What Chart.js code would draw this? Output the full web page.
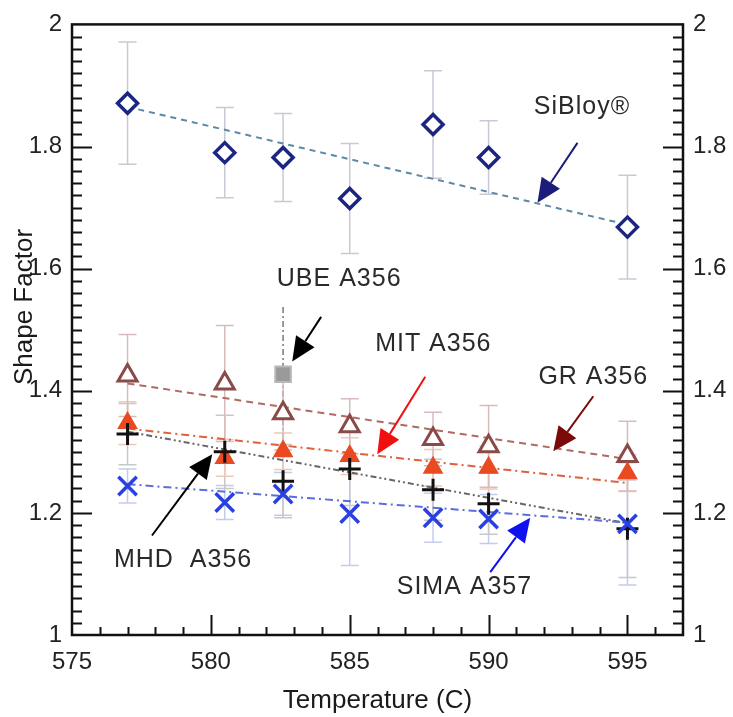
<!DOCTYPE html>
<html>
<head>
<meta charset="utf-8">
<script src="https://cdn.jsdelivr.net/npm/chart.js@4.4.1/dist/chart.umd.min.js"></script>
<style>
body { margin: 0; background: #fff; }
</style>
</head>
<body>
<canvas id="c_shape" width="733" height="717"></canvas>
<script>
const c_shape = document.getElementById('c_shape');

// temperatures (C)
const temps = [577, 580.5, 582.6, 585, 588, 590, 595];
const tempFit = [577, 595];

// shape factor per alloy
const sibloy = [1.871, 1.790, 1.782, 1.715, 1.836, 1.782, 1.668];
const sibloyErr = [0.10, 0.074, 0.072, 0.09, 0.088, 0.06, 0.085];
const gr = [1.425, 1.412, 1.363, 1.342, 1.321, 1.309, 1.293];
const grErr = [0.067, 0.095, 0.06, 0.045, 0.044, 0.067, 0.057];
const mit = [1.347, 1.290, 1.301, 1.293, 1.274, 1.274, 1.265];
const mitErr = [0.035, 0.03, 0.03, 0.03, 0.03, 0.035, 0.03];
const mhd = [1.329, 1.300, 1.252, 1.272, 1.238, 1.215, 1.174];
const mhdErr = [0.05, 0.06, 0.06, 0.06, 0.05, 0.05, 0.08];
const sima = [1.244, 1.217, 1.231, 1.199, 1.192, 1.190, 1.182];
const simaErr = [0.028, 0.028, 0.035, 0.085, 0.04, 0.04, 0.1];
const ubeTemp = [582.6];
const ube = [1.427];
const ubeErr = [0.11];

// trend lines (end points)
const sibloyFit = [1.865, 1.672];
const grFit = [1.412, 1.288];
const mitFit = [1.338, 1.249];
const mhdFit = [1.333, 1.183];
const simaFit = [1.247, 1.184];

// tick labels
const xTicks = [575, 580, 585, 590, 595];
const yTicks = [1, 1.2, 1.4, 1.6, 1.8, 2];

const FONT = '"Liberation Sans", Arial, sans-serif';

const notes = [
    {text: 'SiBloy®', x: 593.36, y: 1.865},
    {text: 'UBE A356', x: 584.62, y: 1.583},
    {text: 'MIT A356', x: 588.01, y: 1.476},
    {text: 'GR A356', x: 593.77, y: 1.423},
    {text: 'MHD  A356', x: 579.0, y: 1.122},
    {text: 'SIMA A357', x: 589.13, y: 1.078}
];
const arrows = [
    {from: [593.20, 1.806], to: [591.76, 1.708], color: '#1c1c7a'},
    {from: [583.97, 1.521], to: [582.93, 1.448], color: '#000000'},
    {from: [587.72, 1.423], to: [585.99, 1.296], color: '#f01010'},
    {from: [593.77, 1.391], to: [592.33, 1.301], color: '#7a0a0a'},
    {from: [577.88, 1.163], to: [580.05, 1.296], color: '#000000'},
    {from: [590.06, 1.103], to: [591.50, 1.192], color: '#1010f0'}
];

function pts(xs, ys) {
    return xs.map((x, i) => ({x: x, y: ys[i]}));
}

function markers(label, ys, style, errs, errColor) {
    return Object.assign({
        label: label,
        data: pts(temps, ys),
        showLine: false,
        errors: errs,
        errColor: errColor
    }, style);
}

function fitLine(ys, color, dash) {
    return {
        data: pts(tempFit, ys),
        showLine: true,
        borderColor: color,
        borderWidth: 2,
        borderDash: dash,
        pointRadius: 0
    };
}

const extras = {
    id: 'extras',
    beforeDatasetsDraw(chart) {
        const ctx = chart.ctx, xs = chart.scales.x, ys = chart.scales.y;
        chart.data.datasets.forEach(ds => {
            if (!ds.errors) return;
            ctx.save();
            ctx.strokeStyle = ds.errColor;
            ctx.lineWidth = 1.5;
            if (ds.errDash) ctx.setLineDash(ds.errDash);
            ds.data.forEach((p, i) => {
                const px = xs.getPixelForValue(p.x);
                const top = ys.getPixelForValue(p.y + ds.errors[i]);
                const bot = ys.getPixelForValue(p.y - ds.errors[i]);
                ctx.beginPath();
                ctx.moveTo(px, top);
                ctx.lineTo(px, bot);
                if (!ds.errDash) {
                    ctx.moveTo(px - 9, top); ctx.lineTo(px + 9, top);
                    ctx.moveTo(px - 9, bot); ctx.lineTo(px + 9, bot);
                }
                ctx.stroke();
            });
            ctx.restore();
        });
    },
    afterDraw(chart) {
        const ctx = chart.ctx, xs = chart.scales.x, ys = chart.scales.y;
        const a = chart.chartArea;
        ctx.save();
        // frame
        ctx.strokeStyle = '#111';
        ctx.lineWidth = 2.5;
        ctx.strokeRect(a.left, a.top, a.right - a.left, a.bottom - a.top);
        // inward ticks
        ctx.lineWidth = 2;
        ctx.beginPath();
        for (let v = 1.02; v < 1.999; v += 0.02) {
            const py = Math.round(ys.getPixelForValue(v)) + 0.5;
            const major = Math.abs(v * 5 - Math.round(v * 5)) < 0.01;
            const len = major ? 20 : 10;
            ctx.moveTo(a.left, py); ctx.lineTo(a.left + len, py);
            ctx.moveTo(a.right, py); ctx.lineTo(a.right - len, py);
        }
        for (let v = 576; v < 597; v += 1) {
            const px = Math.round(xs.getPixelForValue(v)) + 0.5;
            const len = v % 5 === 0 ? 20 : 8;
            ctx.moveTo(px, a.bottom); ctx.lineTo(px, a.bottom - len);
        }
        ctx.stroke();
        // y title
        ctx.fillStyle = '#1a1a1a';
        ctx.font = '26px ' + FONT;
        ctx.textAlign = 'center';
        ctx.textBaseline = 'middle';
        ctx.translate(25, 307);
        ctx.rotate(-Math.PI / 2);
        ctx.fillText('Shape Factor', 0, 0);
        ctx.restore();

        // arrows
        arrows.forEach(ar => {
            const x0 = xs.getPixelForValue(ar.from[0]), y0 = ys.getPixelForValue(ar.from[1]);
            const x1 = xs.getPixelForValue(ar.to[0]), y1 = ys.getPixelForValue(ar.to[1]);
            const ang = Math.atan2(y1 - y0, x1 - x0);
            const hl = 24, hw = 11;
            const bx = x1 - Math.cos(ang) * hl, by = y1 - Math.sin(ang) * hl;
            ctx.save();
            ctx.strokeStyle = ar.color;
            ctx.fillStyle = ar.color;
            ctx.lineWidth = 2;
            ctx.beginPath();
            ctx.moveTo(x0, y0);
            ctx.lineTo(bx, by);
            ctx.stroke();
            ctx.beginPath();
            ctx.moveTo(x1, y1);
            ctx.lineTo(bx + Math.sin(ang) * hw, by - Math.cos(ang) * hw);
            ctx.lineTo(bx - Math.sin(ang) * hw, by + Math.cos(ang) * hw);
            ctx.closePath();
            ctx.fill();
            ctx.restore();
        });

        // labels
        ctx.save();
        ctx.fillStyle = '#2a2a2a';
        ctx.font = '25px ' + FONT;
        ctx.letterSpacing = '1px';
        ctx.textAlign = 'center';
        ctx.textBaseline = 'middle';
        notes.forEach(n => {
            ctx.fillText(n.text, xs.getPixelForValue(n.x), ys.getPixelForValue(n.y));
        });
        ctx.restore();
    }
};

const tickFont = {family: FONT, size: 24};

var shape_data = {
    type: 'scatter',
    data: {
        datasets: [
            markers('UBE A356', ube, {
                data: pts(ubeTemp, ube),
                pointStyle: 'rect', pointRadius: 11,
                backgroundColor: '#9a9a9a', borderColor: '#b8b8b8', borderWidth: 2,
                errDash: [6, 3, 2, 3]
            }, ubeErr, '#777777'),
            markers('SIMA A357', sima, {
                pointStyle: 'crossRot', pointRadius: 13,
                borderColor: '#2a40e0', borderWidth: 3.5
            }, simaErr, '#c4ccee'),
            markers('MHD A356', mhd, {
                pointStyle: 'cross', pointRadius: 11,
                borderColor: '#111111', borderWidth: 3
            }, mhdErr, '#c8c8c8'),
            markers('MIT A356', mit, {
                pointStyle: 'triangle', pointRadius: 10,
                backgroundColor: '#ea4a20', borderColor: '#ea4a20', borderWidth: 2
            }, mitErr, '#f0c8b8'),
            markers('GR A356', gr, {
                pointStyle: 'triangle', pointRadius: 11,
                backgroundColor: '#ffffff', borderColor: '#8a4a48', borderWidth: 3
            }, grErr, '#d8bcbc'),
            markers('SiBloy', sibloy, {
                pointStyle: 'rectRot', pointRadius: 10,
                backgroundColor: '#ffffff', borderColor: '#1c2580', borderWidth: 3.5
            }, sibloyErr, '#c9c9d6'),
            fitLine(simaFit, '#5a6ee0', [8, 4, 2, 4]),
            fitLine(mhdFit, '#666666', [6, 3, 2, 3, 2, 3]),
            fitLine(mitFit, '#e0603a', [8, 4, 2, 4]),
            fitLine(grFit, '#b06a60', [7, 5]),
            fitLine(sibloyFit, '#5a8aa8', [6, 5])
        ]
    },
    options: {
        responsive: false,
        animation: false,
        layout: {
            padding: {top: 21, left: 0, right: 0, bottom: 0}
        },
        plugins: {
            legend: {display: false},
            tooltip: {enabled: false}
        },
        scales: {
            x: {
                type: 'linear',
                position: 'bottom',
                min: 575,
                max: 597,
                grid: {display: false, drawTicks: false},
                border: {display: false},
                ticks: {
                    stepSize: 5,
                    includeBounds: false,
                    padding: 13,
                    color: '#222',
                    font: tickFont,
                    callback: (v) => xTicks.includes(v) ? String(v) : ''
                },
                title: {
                    display: true,
                    text: 'Temperature (C)',
                    color: '#1a1a1a',
                    font: {family: FONT, size: 26},
                    padding: {top: 0, bottom: 1}
                },
                afterFit: (scale) => { scale.height = 82; }
            },
            y: {
                position: 'left',
                min: 1,
                max: 2,
                grid: {display: false, drawTicks: false},
                border: {display: false},
                ticks: {
                    stepSize: 0.2,
                    padding: 10,
                    color: '#222',
                    font: tickFont,
                    callback: (v) => String(yTicks.find(t => Math.abs(t - v) < 1e-6))
                },
                afterFit: (scale) => { scale.width = 72; }
            },
            y2: {
                position: 'right',
                min: 1,
                max: 2,
                grid: {display: false, drawTicks: false},
                border: {display: false},
                ticks: {
                    stepSize: 0.2,
                    padding: 10,
                    color: '#222',
                    font: tickFont,
                    callback: (v) => String(yTicks.find(t => Math.abs(t - v) < 1e-6))
                },
                afterFit: (scale) => { scale.width = 50; }
            }
        }
    },
    plugins: [extras]
};

var chart_shape = new Chart(c_shape, shape_data);
</script>
</body>
</html>
